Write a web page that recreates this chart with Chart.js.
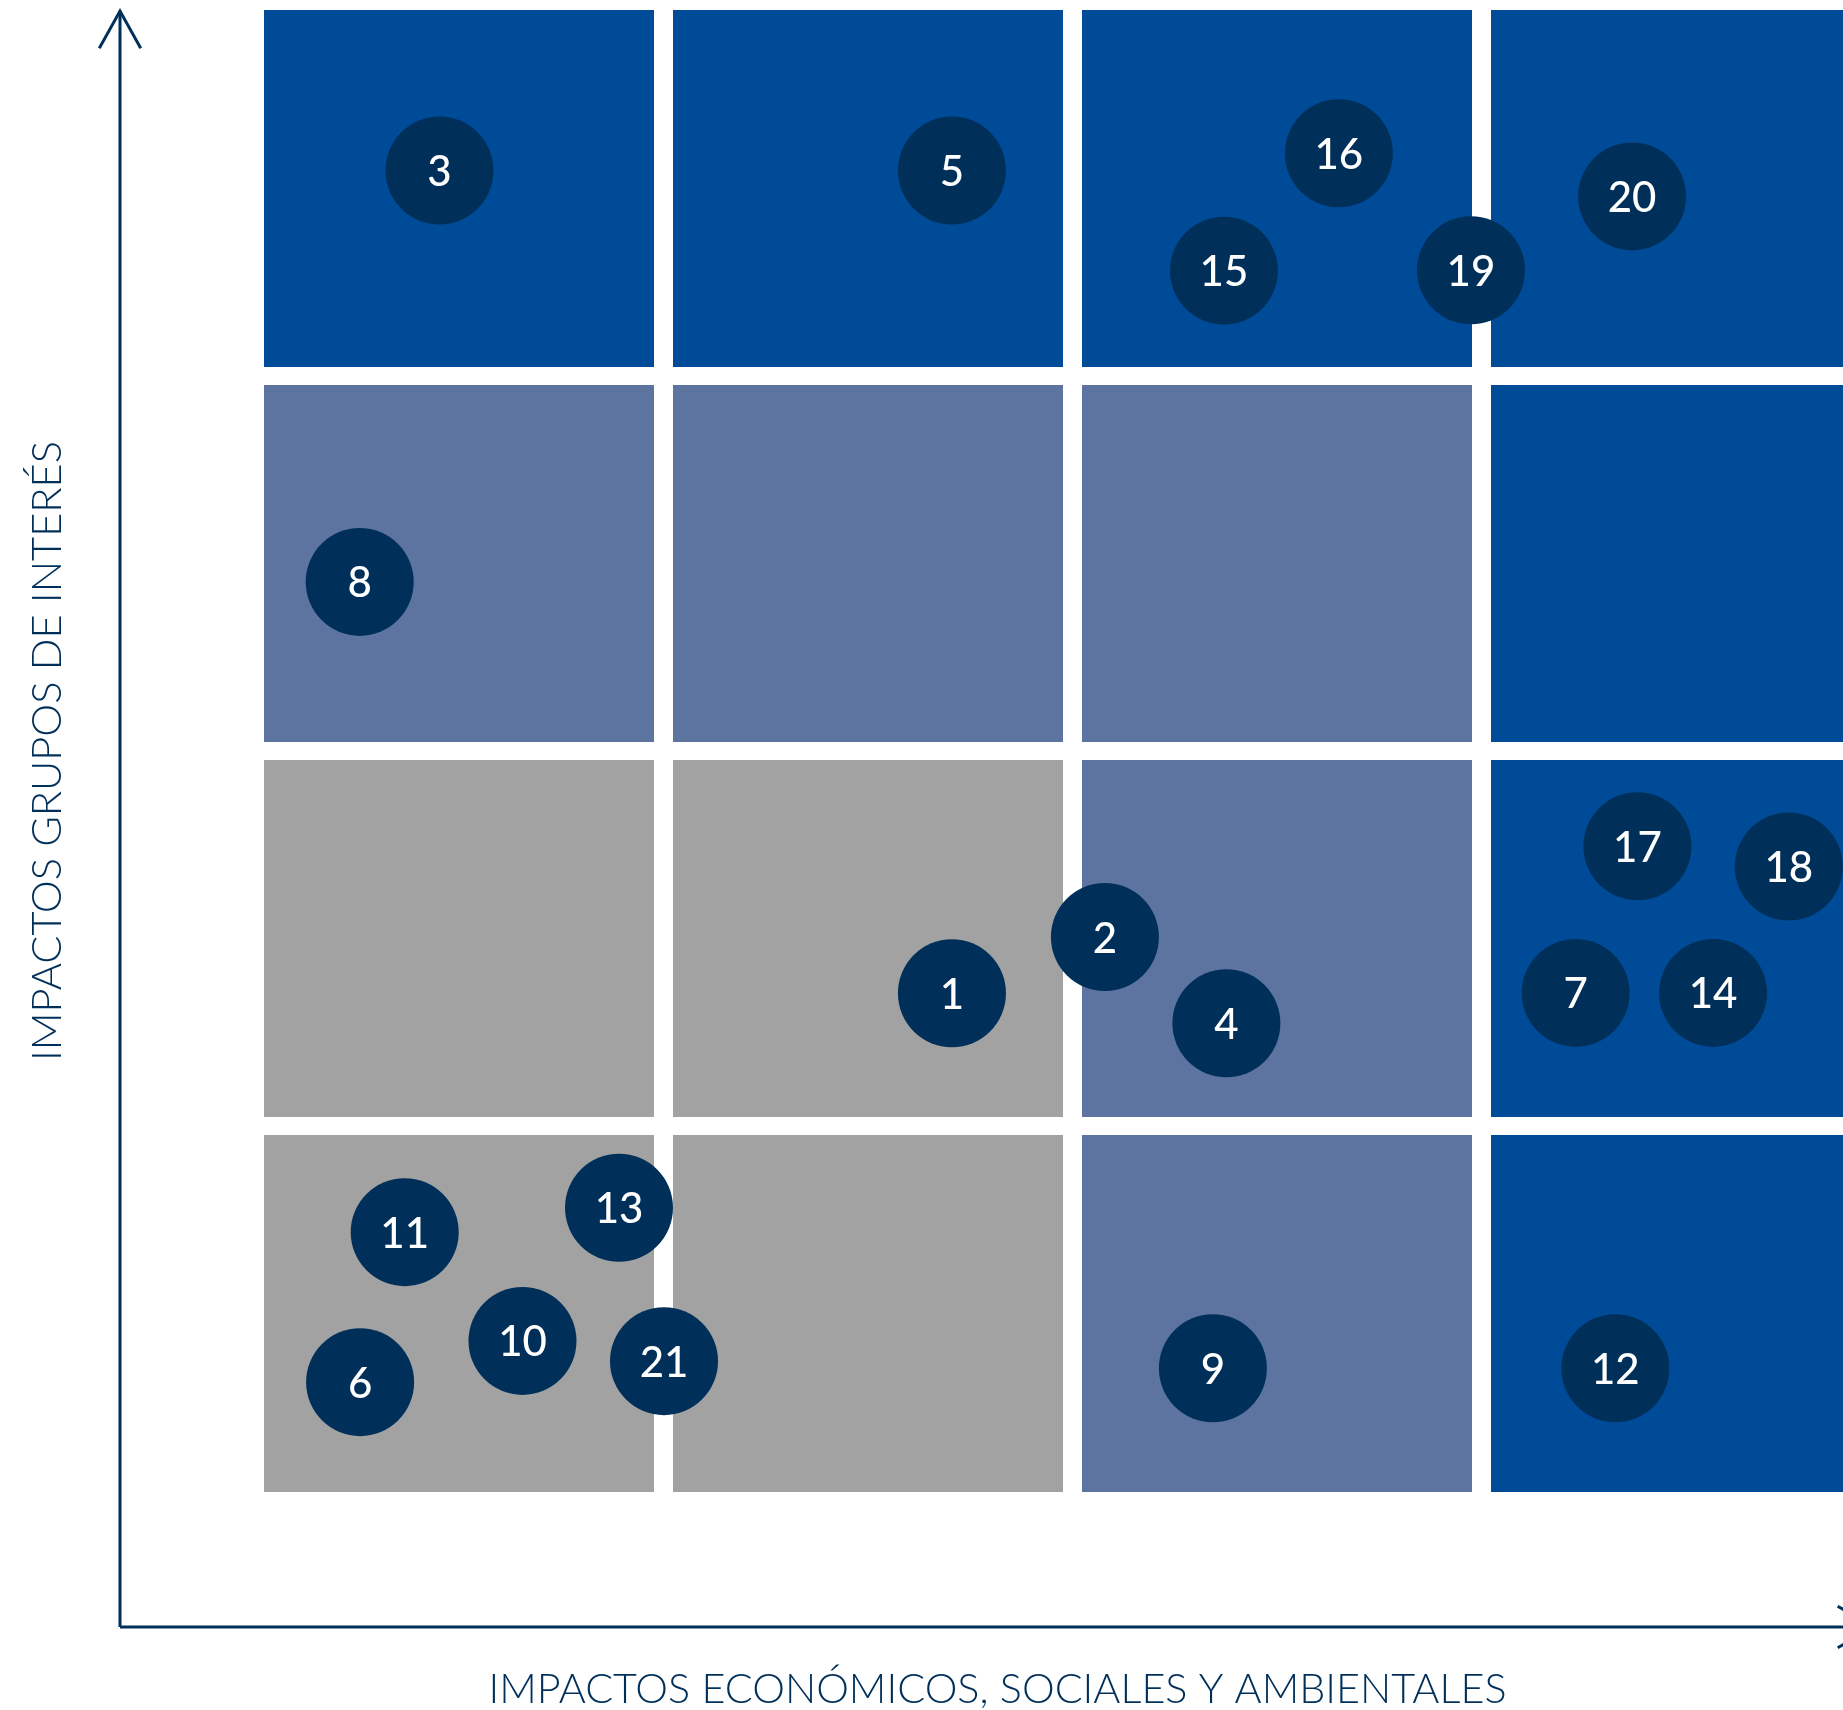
<!DOCTYPE html>
<html>
<head>
<meta charset="utf-8">
<script src="https://cdn.jsdelivr.net/npm/chart.js@4.4.1/dist/chart.umd.min.js"></script>
<style>
  html, body { margin: 0; padding: 0; background: #ffffff; overflow: hidden; }
  canvas { display: block; }
</style>
</head>
<body>
<canvas id="chart" width="1843" height="1710"></canvas>
<script>
// ---------------- DATA ----------------
const topicIds = ['1','2','3','4','5','6','7','8','9','10','11','12','13','14','15','16','17','18','19','20','21'];
// horizontal: economic, social & environmental impact (0..4, one unit per matrix column)
const econImpact = [1.682, 2.056, 0.429, 2.353, 1.682, 0.235, 3.207, 0.234, 2.320, 0.632, 0.344,
                    3.304, 0.868, 3.543, 2.347, 2.628, 3.358, 3.728, 2.951, 3.345, 0.978];
// vertical: stakeholder impact (0..4, one unit per matrix row)
const stakeholderImpact = [1.330, 1.480, 3.524, 1.250, 3.524, 0.293, 1.331, 2.427, 0.330, 0.403, 0.693,
                           0.330, 0.758, 1.331, 3.257, 3.570, 1.722, 1.668, 3.258, 3.455, 0.349];
// matrix cells: column / row start values, and materiality level per cell (rows listed bottom -> top)
const matrixColumns = [0, 1, 2, 3];
const matrixRows = [0, 1, 2, 3];
const cellLevels = [
  [0, 0, 1, 2],
  [0, 0, 1, 2],
  [1, 1, 1, 2],
  [2, 2, 2, 2]
];
const xAxisTitle = 'IMPACTOS ECONÓMICOS, SOCIALES Y AMBIENTALES';
const yAxisTitle = 'IMPACTOS GRUPOS DE INTERÉS';

// ---------------- STYLE / LAYOUT ----------------
const levelColors = ['#a1a2a1', '#5e74a0', '#004b98'];
const navy = '#00305a';
const CELL_W = 390 / 409;   // cell width as fraction of a column unit
const CELL_H = 357 / 375;   // cell height as fraction of a row unit
const AXES = { yAxisAtX: -144 / 409, xAxisAtY: -135 / 375, yTipAt: 1481 / 375, xTipAt: 1611 / 409 };

const matrixPlugin = {
  id: 'matrixCells',
  beforeDatasetsDraw(chart) {
    const { ctx, scales: { x, y } } = chart;
    ctx.save();
    matrixRows.forEach((r, ri) => {
      matrixColumns.forEach((c, ci) => {
        const x0 = x.getPixelForValue(c), x1 = x.getPixelForValue(c + CELL_W);
        const y0 = y.getPixelForValue(r + CELL_H), y1 = y.getPixelForValue(r);
        ctx.fillStyle = levelColors[cellLevels[ri][ci]];
        ctx.fillRect(x0, y0, x1 - x0, y1 - y0);
      });
    });
    ctx.restore();
  }
};

const axesPlugin = {
  id: 'arrowAxes',
  beforeDatasetsDraw(chart) {
    const { ctx, scales: { x, y } } = chart;
    const ox = x.getPixelForValue(AXES.yAxisAtX);
    const oy = y.getPixelForValue(AXES.xAxisAtY);
    const ty = y.getPixelForValue(AXES.yTipAt);
    const tx = x.getPixelForValue(AXES.xTipAt);
    ctx.save();
    ctx.strokeStyle = navy;
    ctx.lineWidth = 3;
    ctx.lineCap = 'butt';
    ctx.beginPath();
    ctx.moveTo(ox, oy); ctx.lineTo(ox, ty);
    ctx.moveTo(ox, oy); ctx.lineTo(tx, oy);
    ctx.stroke();
    ctx.lineCap = 'square';
    ctx.lineJoin = 'miter';
    const hyL = 36, hyH = 20;
    ctx.beginPath();
    ctx.moveTo(ox - hyH, ty + hyL); ctx.lineTo(ox, ty); ctx.lineTo(ox + hyH, ty + hyL);
    ctx.stroke();
    ctx.beginPath();
    ctx.moveTo(tx - hyL, oy - hyH); ctx.lineTo(tx, oy); ctx.lineTo(tx - hyL, oy + hyH);
    ctx.stroke();

    // titles
    ctx.fillStyle = navy;
    ctx.font = '300 42px Lato';
    ctx.textAlign = 'center';
    ctx.textBaseline = 'alphabetic';
    ctx.fillText(xAxisTitle, (ox + tx) / 2, oy + 76, 1018);
    const gridTop = y.getPixelForValue(matrixRows[matrixRows.length - 1] + CELL_H);
    const gridBottom = y.getPixelForValue(matrixRows[0]);
    ctx.translate(ox - 59, (gridTop + gridBottom) / 2);
    ctx.rotate(-Math.PI / 2);
    ctx.fillText(yAxisTitle, 0, 0, 620);
    ctx.restore();
  }
};

const labelPlugin = {
  id: 'bubbleLabels',
  afterDatasetsDraw(chart) {
    const { ctx } = chart;
    const meta = chart.getDatasetMeta(0);
    ctx.save();
    ctx.fillStyle = '#ffffff';
    ctx.font = '500 42px Lato';
    ctx.textAlign = 'center';
    ctx.textBaseline = 'alphabetic';
    meta.data.forEach((pt, i) => {
      const t = topicIds[i];
      const m = ctx.measureText(t);
      ctx.fillText(t, pt.x, pt.y + m.actualBoundingBoxAscent / 2);
    });
    ctx.restore();
  }
};

new Chart(document.getElementById('chart'), {
  type: 'scatter',
  data: {
    datasets: [{
      label: 'Temas materiales',
      data: econImpact.map((v, i) => ({ x: v, y: stakeholderImpact[i] })),
      pointRadius: 54,
      pointHoverRadius: 54,
      pointBackgroundColor: navy,
      pointBorderWidth: 0,
      pointBorderColor: navy,
      clip: false
    }]
  },
  options: {
    responsive: false,
    animation: false,
    devicePixelRatio: 1,
    layout: { padding: 0, autoPadding: false },
    events: [],
    plugins: { legend: { display: false }, tooltip: { enabled: false } },
    scales: {
      x: { type: 'linear', display: false, min: -264 / 409, max: 1579 / 409 },
      y: { type: 'linear', display: false, min: -218 / 375, max: 1492 / 375 }
    }
  },
  plugins: [matrixPlugin, axesPlugin, labelPlugin]
});
</script>
</body>
</html>
